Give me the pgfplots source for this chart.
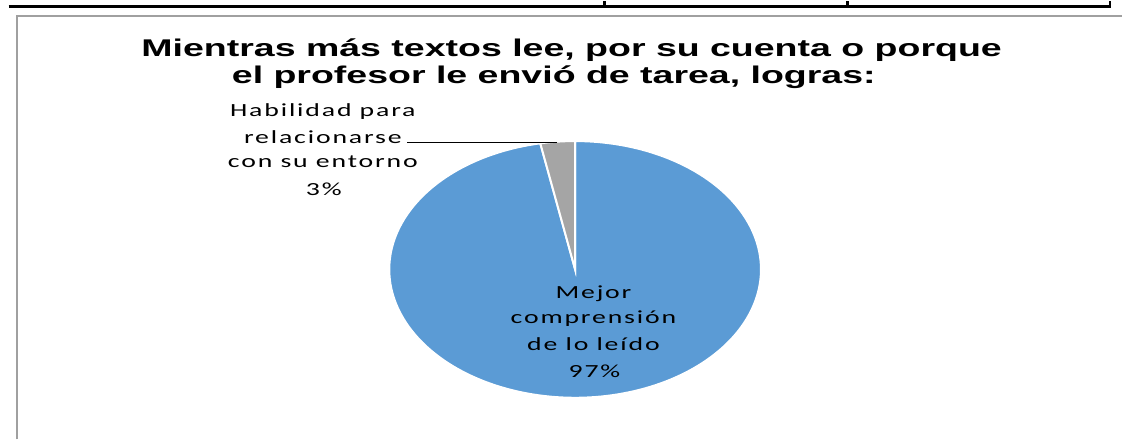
\documentclass[border=0pt]{standalone}
\usepackage{pgfplots}
\pgfplotsset{compat=1.18}
\usepackage{pgfplotstable}
\usepackage{fontspec}
\setmainfont{Liberation Sans}
\newfontfamily\titlefont[FakeStretch=1.55]{Liberation Sans}
\newfontfamily\labfont[FakeStretch=1.5,LetterSpace=10]{Carlito}
\definecolor{pieblue}{HTML}{5B9BD5}
\definecolor{piegray}{HTML}{A5A5A5}
\definecolor{framegray}{HTML}{A0A0A0}

\pgfplotstableread{
label value
Mejor 97
Habilidad 3
}\piedata

\begin{document}
\pgfplotstablegetelem{0}{value}\of\piedata \let\va\pgfplotsretval
\pgfplotstablegetelem{1}{value}\of\piedata \let\vb\pgfplotsretval
\pgfmathsetmacro{\aend}{90-3.6*\va}
\pgfmathsetmacro{\bstart}{\aend-3.6*\vb}
\begin{tikzpicture}
\begin{axis}[
  x=0.75pt, y=0.75pt,
  xmin=0, xmax=1123, ymin=0, ymax=442,
  hide axis, clip=false,
  scale only axis,
]
\fill[white] (axis cs:0,0) rectangle (axis cs:1123,442);
% top table lines
\draw[black, line width=2pt] (axis cs:0,436.8) -- (axis cs:1112,436.8);
\draw[black, line width=2pt] (axis cs:601,436.8) -- (axis cs:601,442);
\draw[black, line width=2pt] (axis cs:846,436.8) -- (axis cs:846,442);
\draw[black, line width=2pt] (axis cs:1111,435.5) -- (axis cs:1111,442);
% chart frame
\draw[framegray, line width=1.9pt] (axis cs:8.5,0) -- (axis cs:8.5,427) -- (axis cs:1123,427);
% pie slices
\addplot[fill=pieblue, draw=white, line width=1.5pt, domain=\aend:90, samples=200, variable=\t]
  ({571.5+187.5*cos(t)},{171.5+129.5*sin(t)}) -- (axis cs:571.5,171.5) -- cycle;
\addplot[fill=piegray, draw=white, line width=1.5pt, domain=\bstart:\aend, samples=20, variable=\t]
  ({571.5+187.5*cos(t)},{171.5+129.5*sin(t)}) -- (axis cs:571.5,171.5) -- cycle;
% leader line
\draw[black, line width=0.75pt] (axis cs:402,300) -- (axis cs:553,300);
% title
\node[anchor=base, inner sep=0pt, font=\titlefont\bfseries\fontsize{18.3pt}{21pt}\selectfont] at (axis cs:568,386) {Mientras más textos lee, por su cuenta o porque};
\node[anchor=base, inner sep=0pt, font=\titlefont\bfseries\fontsize{18.3pt}{21pt}\selectfont] at (axis cs:550,359) {el profesor le envió de tarea, logras:};
% outer label
\begin{scope}[every node/.style={anchor=base, inner sep=0pt, font=\labfont\fontsize{14pt}{20pt}\selectfont}]
\node at (axis cs:317,326) {Habilidad para};
\node at (axis cs:317,299) {relacionarse};
\node at (axis cs:317,274) {con su entorno};
\node at (axis cs:318,246) {3\%};
% inner label
\node at (axis cs:590,142) {Mejor};
\node at (axis cs:590,117) {comprensión};
\node at (axis cs:590,90) {de lo leído};
\node at (axis cs:591,62) {97\%};
\end{scope}
\end{axis}
\end{tikzpicture}
\end{document}
